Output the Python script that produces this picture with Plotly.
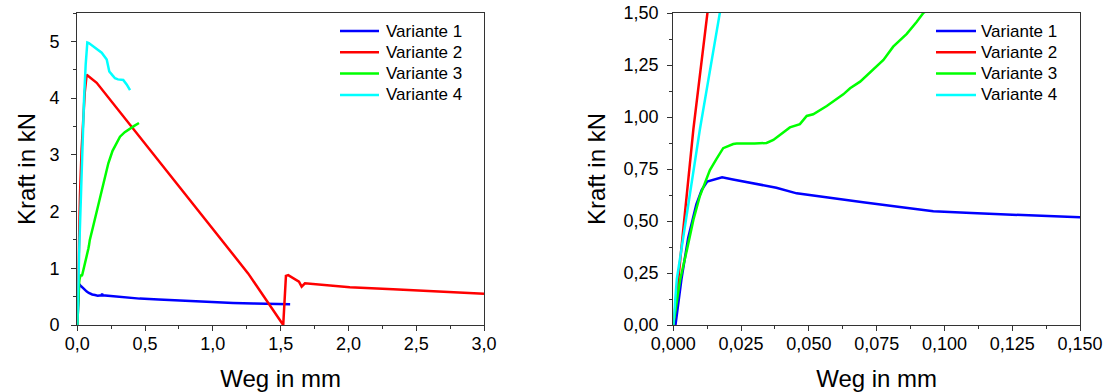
import plotly.graph_objects as go

# Kraft-Weg-Kurven (Weg in mm, Kraft in kN)
weg_v1 = [0.0, 0.0008, 0.003, 0.0055, 0.0085, 0.0105, 0.0125, 0.015, 0.018, 0.022,
          0.028, 0.038, 0.0455, 0.055, 0.07, 0.085, 0.0959, 0.11, 0.13, 0.15,
          0.178, 0.183, 0.188, 0.25, 0.32, 0.46, 0.6, 0.8, 0.954, 1.15, 1.3, 1.445, 1.57]
kraft_v1 = [0.0, 0.0, 0.22, 0.42, 0.58, 0.65, 0.69, 0.70, 0.71, 0.70,
            0.686, 0.66, 0.633, 0.615, 0.59, 0.565, 0.547, 0.538, 0.528, 0.518,
            0.525, 0.55, 0.525, 0.51, 0.49, 0.465, 0.45, 0.425, 0.405, 0.39, 0.38, 0.37, 0.365]

weg_v2 = [0.0, 0.0018, 0.0074, 0.0127, 0.02, 0.032, 0.044, 0.055, 0.069, 0.143,
          1.26, 1.519, 1.539, 1.556, 1.635, 1.655, 1.679, 1.84, 2.01, 2.33, 2.577, 3.0]
kraft_v2 = [0.0, 0.216, 0.94, 1.5, 2.3, 3.1, 3.74, 4.1, 4.41, 4.27,
            0.91, 0.0, 0.865, 0.88, 0.765, 0.676, 0.735, 0.70, 0.665, 0.63, 0.60, 0.55]

weg_v3 = [0.0, 0.0025, 0.005, 0.0074, 0.0098, 0.0111, 0.0135, 0.016, 0.0184, 0.0221,
          0.0234, 0.03, 0.0344, 0.0369, 0.043, 0.0467, 0.0492, 0.0516, 0.0566, 0.0627,
          0.0652, 0.0689, 0.0713, 0.0775, 0.0811, 0.0861, 0.0898, 0.0922, 0.118, 0.143,
          0.167, 0.2, 0.229, 0.26, 0.315, 0.35, 0.389, 0.42, 0.455]
kraft_v3 = [0.0, 0.216, 0.36, 0.505, 0.62, 0.665, 0.745, 0.80, 0.85, 0.87,
            0.872, 0.873, 0.875, 0.89, 0.95, 0.966, 1.005, 1.013, 1.053, 1.109,
            1.138, 1.17, 1.20, 1.274, 1.338, 1.40, 1.458, 1.50, 1.75, 2.0,
            2.21, 2.55, 2.85, 3.07, 3.32, 3.40, 3.47, 3.51, 3.56]

weg_v4 = [0.0, 0.0013, 0.0098, 0.0164, 0.025, 0.035, 0.05, 0.062, 0.074, 0.085,
          0.118, 0.18, 0.217, 0.236, 0.26, 0.278, 0.30, 0.339, 0.364, 0.389]
kraft_v4 = [0.0, 0.22, 0.94, 1.5, 2.25, 3.0, 4.0, 4.6, 4.98, 4.97,
            4.91, 4.80, 4.68, 4.47, 4.40, 4.35, 4.33, 4.32, 4.24, 4.14]

names = ["Variante 1", "Variante 2", "Variante 3", "Variante 4"]
colors = ["#0000ff", "#ff0000", "#00ff00", "#00ffff"]
series = [(weg_v1, kraft_v1), (weg_v2, kraft_v2), (weg_v3, kraft_v3), (weg_v4, kraft_v4)]

W, H = 1106, 392
FONT = "Liberation Sans, Arial, sans-serif"
AXIS_COLOR = "#333333"


def px_x(p):
    return p / W


def px_y(p):
    return 1 - p / H


fig = go.Figure()
for xa, ya in (("x", "y"), ("x2", "y2")):
    for (x, y), name, col in zip(series, names, colors):
        fig.add_trace(go.Scatter(x=x, y=y, mode="lines", name=name,
                                 line=dict(color=col, width=2.5),
                                 xaxis=xa, yaxis=ya, showlegend=False))

# legend boxes in the upper right corner of each panel
legend_rows = [31, 52.3, 73.6, 95]
for line_x0, line_x1, text_x in ((340, 379, 384), (936, 976, 979)):
    for row, name, col in zip(legend_rows, names, colors):
        fig.add_shape(type="line", xref="paper", yref="paper",
                      x0=px_x(line_x0), x1=px_x(line_x1), y0=px_y(row), y1=px_y(row),
                      line=dict(color=col, width=2.5))
        fig.add_annotation(xref="paper", yref="paper", x=px_x(text_x), y=px_y(row),
                           text=name, showarrow=False, xanchor="left", yanchor="middle",
                           font=dict(size=17, color="black", family=FONT))

axis_style = dict(
    showline=True, linecolor=AXIS_COLOR, linewidth=1.3, mirror=True,
    ticks="outside", ticklen=5, tickwidth=1.2, tickcolor=AXIS_COLOR,
    showgrid=False, zeroline=False, automargin=False,
    tickfont=dict(size=18, color="black", family=FONT),
    title_font=dict(size=24, color="black", family=FONT),
)

ydom = [px_y(325), px_y(13)]

fig.update_layout(
    width=W, height=H,
    margin=dict(l=0, r=0, t=0, b=0),
    paper_bgcolor="white", plot_bgcolor="white",
    separators=",.",
    showlegend=False,
    font=dict(family=FONT, color="black"),
    xaxis=dict(axis_style, domain=[px_x(77.3), px_x(484)], anchor="y",
               range=[0, 3], tick0=0, dtick=0.5, tickformat=".1f",
               ticklabelstandoff=-3,
               minor=dict(ticks="outside", ticklen=3, tickcolor=AXIS_COLOR, dtick=0.25),
               title=dict(text="Weg in mm", standoff=17)),
    yaxis=dict(axis_style, domain=ydom, anchor="x",
               range=[0, 5.5], tick0=0, dtick=1, tickformat="d",
               ticklabelstandoff=8,
               minor=dict(ticks="outside", ticklen=3, tickcolor=AXIS_COLOR, dtick=0.5),
               title=dict(text="Kraft in kN", standoff=7)),
    xaxis2=dict(axis_style, domain=[px_x(673.3), px_x(1080)], anchor="y2",
                range=[0, 0.15], tick0=0, dtick=0.025, tickformat=".3f",
                ticklabelstandoff=-3,
                minor=dict(ticks="outside", ticklen=3, tickcolor=AXIS_COLOR, dtick=0.0125),
                title=dict(text="Weg in mm", standoff=17)),
    yaxis2=dict(axis_style, domain=ydom, anchor="x2",
                range=[0, 1.5], tick0=0, dtick=0.25, tickformat=".2f",
                ticklabelstandoff=5,
                minor=dict(ticks="outside", ticklen=3, tickcolor=AXIS_COLOR, dtick=0.125),
                title=dict(text="Kraft in kN", standoff=11)),
)

fig.write_html("out.html")
